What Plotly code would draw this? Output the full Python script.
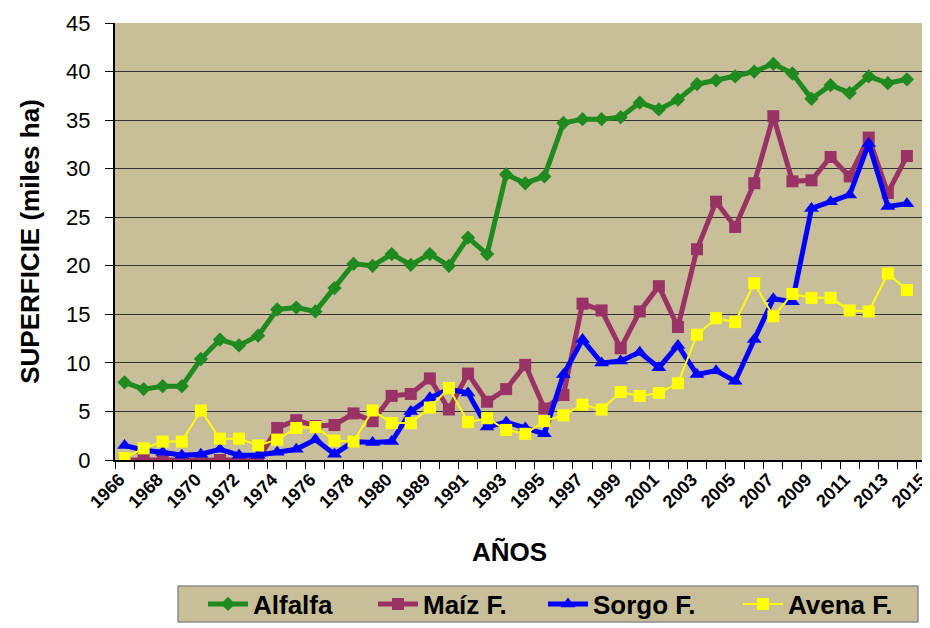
import plotly.graph_objects as go

years = ["1966", "1967", "1968", "1969", "1970", "1971", "1972", "1973", "1974", "1975",
         "1976", "1977", "1978", "1979", "1980", "1988", "1989", "1990", "1991", "1992",
         "1993", "1994", "1995", "1996", "1997", "1998", "1999", "2000", "2001", "2002",
         "2003", "2004", "2005", "2006", "2007", "2008", "2009", "2010", "2011", "2012",
         "2013", "2014", "2015"]

alfalfa = [8.0, 7.3, 7.6, 7.6, 10.4, 12.4, 11.8, 12.8, 15.5, 15.7,
           15.3, 17.7, 20.2, 20.0, 21.2, 20.1, 21.2, 20.0, 22.9, 21.2,
           29.4, 28.5, 29.2, 34.7, 35.1, 35.1, 35.3, 36.8, 36.1, 37.1,
           38.7, 39.1, 39.5, 40.0, 40.8, 39.8, 37.2, 38.6, 37.8, 39.5,
           38.8, 39.2, None]
maiz = [0.0, 0.0, 0.0, 0.0, 0.0, 0.0, 0.0, 0.0, 3.3, 4.1,
        3.5, 3.6, 4.8, 4.0, 6.6, 6.8, 8.4, 5.2, 8.9, 6.0,
        7.3, 9.8, 5.3, 6.7, 16.1, 15.4, 11.5, 15.3, 17.9, 13.7,
        21.7, 26.6, 24.0, 28.5, 35.4, 28.7, 28.8, 31.2, 29.2, 33.2,
        27.5, 31.3, None]
sorgo = [1.5, 1.0, 0.8, 0.5, 0.6, 1.1, 0.5, 0.5, 0.8, 1.1,
         2.1, 0.6, 1.9, 1.8, 1.9, 5.0, 6.4, 7.3, 6.9, 3.4,
         3.9, 3.3, 2.7, 8.8, 12.4, 10.0, 10.2, 11.1, 9.5, 11.8,
         8.8, 9.2, 8.1, 12.4, 16.6, 16.3, 25.9, 26.6, 27.3, 32.6,
         26.1, 26.4, None]
avena = [0.2, 1.2, 1.9, 1.9, 5.1, 2.2, 2.2, 1.5, 2.1, 3.3,
         3.4, 2.0, 1.9, 5.1, 3.8, 3.8, 5.4, 7.4, 3.9, 4.3,
         3.1, 2.7, 4.0, 4.6, 5.7, 5.2, 7.0, 6.6, 6.9, 7.9,
         12.9, 14.6, 14.2, 18.2, 14.8, 17.1, 16.7, 16.7, 15.4, 15.3,
         19.2, 17.5, None]

y_ticks = [0, 5, 10, 15, 20, 25, 30, 35, 40, 45]

FONT = "Liberation Sans, Arial, sans-serif"
BG = "#C8BF9A"
pos = list(range(len(years)))

series = [
    ("Alfalfa", alfalfa, "#1F8A1F", 5, "diamond", 11, "legend"),
    ("Maíz F.", maiz, "#993366", 5, "square", 12, "legend"),
    ("Sorgo F.", sorgo, "#0000FF", 5, "triangle-up", 13, "legend"),
    ("Avena F.", avena, "#FFFF00", 2, "square", 12, "legend2"),
]

fig = go.Figure()
for name, vals, col, lw, sym, ms, leg in series:
    fig.add_trace(go.Scatter(
        x=pos, y=vals, name=name, mode="lines+markers",
        line=dict(color=col, width=lw),
        marker=dict(symbol=sym, size=ms, color=col, line=dict(width=0)),
        legend=leg,
    ))

# page is offset by the 8px default body margin; layout below is in figure pixels
L, T, B = 107, 15, 168
PW, PH = 922 - L, 620 - T - B


def px_x(page_x):
    return (page_x - 8 - L) / PW


def px_y(page_y):
    return (620 - B - (page_y - 8)) / PH


legend_font = dict(family=FONT, size=26, color="black", weight="bold")

fig.update_layout(
    width=922, height=620,
    margin=dict(l=L, r=0, t=T, b=B, autoexpand=False),
    paper_bgcolor="white",
    plot_bgcolor=BG,
    font=dict(family=FONT, color="black"),
    showlegend=True,
    legend=dict(
        orientation="h",
        x=px_x(203), xanchor="left",
        y=px_y(604), yanchor="middle",
        bgcolor="rgba(0,0,0,0)",
        borderwidth=0,
        font=legend_font,
        entrywidth=115, entrywidthmode="pixels",
        itemwidth=40,
    ),
    legend2=dict(
        orientation="h",
        x=px_x(738), xanchor="left",
        y=px_y(604), yanchor="middle",
        bgcolor="rgba(0,0,0,0)",
        borderwidth=0,
        font=legend_font,
        itemwidth=40,
    ),
    shapes=[dict(
        type="rect", xref="paper", yref="paper",
        x0=px_x(178), x1=px_x(918), y0=px_y(586), y1=px_y(622),
        fillcolor=BG, line=dict(color="#8C8C8C", width=1.5), layer="below",
    )],
    annotations=[dict(
        text="AÑOS", xref="paper", yref="paper",
        x=px_x(509), y=px_y(552), xanchor="center", yanchor="middle",
        showarrow=False,
        font=dict(family=FONT, size=26, color="black", weight="bold"),
    )],
)

fig.update_xaxes(
    range=[-0.5, 42.21],
    automargin=False,
    tickmode="array",
    tickvals=pos[::2],
    ticktext=years[::2],
    tickangle=-45,
    ticks="",
    ticklabeloverflow="allow",
    ticklabelshift=-5,
    tickfont=dict(family=FONT, size=18, color="black", weight="bold"),
    showgrid=False,
    showline=True, linecolor="black", linewidth=2,
    zeroline=False,
    minor=dict(tickmode="array", tickvals=[p - 0.5 for p in pos] + [len(pos) - 0.5],
               ticks="outside", ticklen=7, tickcolor="black", tickwidth=1, showgrid=False),
)

fig.update_yaxes(
    range=[0, 45],
    automargin=False,
    tickmode="array",
    tickvals=y_ticks,
    ticks="outside", ticklen=8, tickcolor="black", tickwidth=1,
    ticklabelstandoff=10,
    tickfont=dict(family=FONT, size=22, color="black"),
    showgrid=True, gridcolor="#333333", gridwidth=1.2,
    showline=True, linecolor="black", linewidth=2,
    zeroline=False,
    title=dict(text="SUPERFICIE (miles ha)", font=dict(family=FONT, size=26, color="black", weight="bold"), standoff=19),
)

fig.write_html("out.html")
